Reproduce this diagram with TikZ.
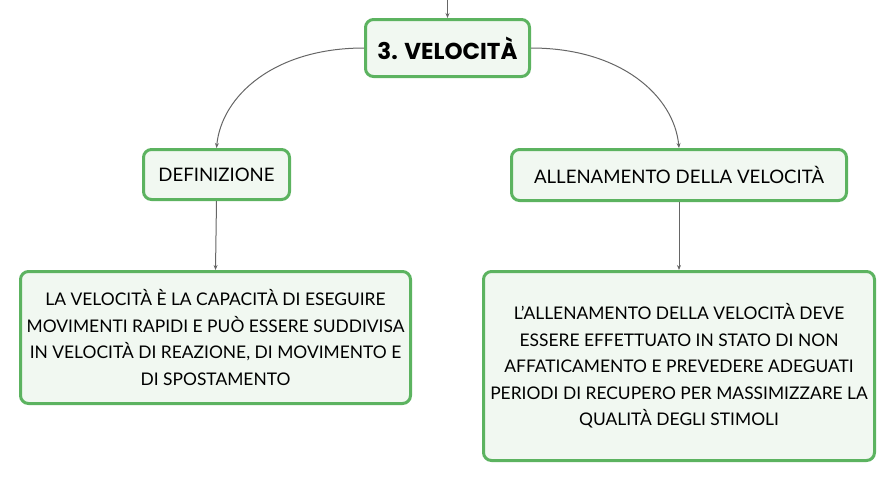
\documentclass[tikz,border=0pt]{standalone}
\usepackage{fontspec}
\setmainfont{Lato}
\newfontfamily\titlefont{Poppins}
\usetikzlibrary{arrows.meta}
\definecolor{boxgreen}{HTML}{5CB360}
\definecolor{boxfill}{HTML}{F1F8F1}
\definecolor{linegray}{HTML}{666666}
\tikzset{
  box/.style={draw=boxgreen, line width=3pt, fill=boxfill, rounded corners=8pt,
    align=center, inner sep=0pt, font=\fontsize{17.4}{26.5}\selectfont},
  smallbox/.style={box, font=\fontsize{18.6}{22}\selectfont},
  conn/.style={draw=linegray, line width=1pt, -{Stealth[length=5pt,width=4pt]}},
}
\begin{document}
\begin{tikzpicture}[x=1pt,y=-1pt]
\useasboundingbox (0,0) rectangle (896,483);
\node[box, minimum width=164pt, minimum height=57pt, font=\titlefont\fontsize{23}{26}\selectfont\bfseries] (top) at (447.5,48) {3. VELOCITÀ};
\node[smallbox, minimum width=146pt, minimum height=50pt] (def) at (216.5,174.5) {DEFINIZIONE};
\node[smallbox, minimum width=335pt, minimum height=51pt] (all) at (679,175) {ALLENAMENTO DELLA VELOCITÀ};
\node[box, minimum width=390pt, minimum height=132pt] (lb) at (215.5,337.5) {LA VELOCITÀ È LA CAPACITÀ DI ESEGUIRE\\MOVIMENTI RAPIDI E PUÒ ESSERE SUDDIVISA\\IN VELOCITÀ DI REAZIONE, DI MOVIMENTO E\\DI SPOSTAMENTO};
\node[box, minimum width=391pt, minimum height=189pt] (rb) at (679,366) {L’ALLENAMENTO DELLA VELOCITÀ DEVE\\ESSERE EFFETTUATO IN STATO DI NON\\AFFATICAMENTO E PREVEDERE ADEGUATI\\PERIODI DI RECUPERO PER MASSIMIZZARE LA\\QUALITÀ DEGLI STIMOLI};
\coordinate (src) at (447.5,0);
\draw[conn] (src) -- (top.north);
\draw[conn] (top.west) .. controls +(-90,0) and +(5,-52) .. (def.north);
\draw[conn] (top.east) .. controls +(90,0) and +(-5,-52) .. (all.north);
\draw[conn] (def.south) -- (lb.north);
\draw[conn] (all.south) -- (rb.north);
\end{tikzpicture}
\end{document}
